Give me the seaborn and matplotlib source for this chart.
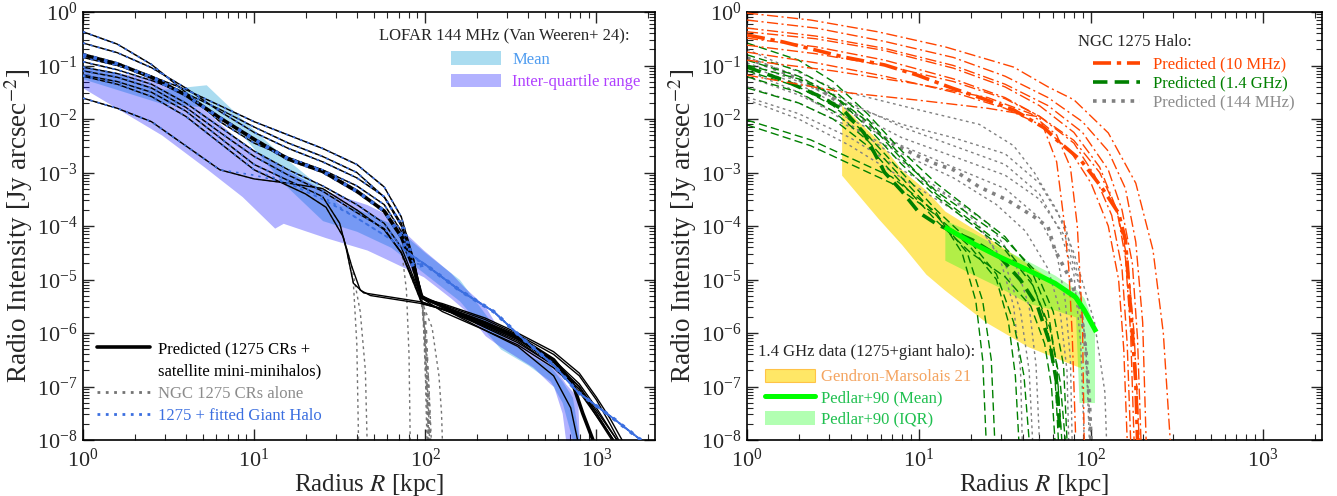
import numpy as np
import pandas as pd
import matplotlib
matplotlib.use("Agg")
import matplotlib.pyplot as plt
import seaborn as sns
from matplotlib.lines import Line2D
from matplotlib.patches import Patch
from matplotlib.ticker import NullFormatter, FixedLocator

sns.set_style("ticks")
plt.rcParams["font.family"] = ["Liberation Serif", "DejaVu Serif"]
plt.rcParams["mathtext.fontset"] = "stix"

# ===================== LEFT PANEL DATA (log10 values) =====================
# LOFAR 144 MHz profile bands
mean_R = [0, 0.2, 0.45, 0.72, 0.93, 1.17, 1.4, 1.5, 1.6, 1.8, 2.0, 2.2, 2.44, 2.6, 2.73, 2.8, 2.86, 2.9]
mean_hi = [-1.0, -1.15, -1.45, -1.36, -2.0, -2.7, -3.3, -3.6, -3.68, -3.95, -4.5, -5.0, -6.03, -6.4, -6.62, -6.9, -7.2, -8.0]
mean_lo = [-1.25, -1.45, -1.7, -1.78, -2.3, -3.2, -3.9, -4.0, -4.1, -4.4, -4.9, -5.4, -6.3, -6.6, -6.9, -7.3, -8.0, -8.0]

iqr_R = [0, 0.46, 0.71, 0.93, 1.12, 1.17, 1.42, 1.66, 1.76, 1.99, 2.15, 2.23, 2.35, 2.44, 2.63, 2.73, 2.75, 2.80, 2.82, 2.89, 2.9]
iqr_hi = [-1.03, -1.27, -1.83, -2.45, -2.82, -2.92, -3.35, -3.6, -3.76, -4.45, -4.88, -5.15, -5.5, -5.98, -6.35, -6.56, -6.62, -6.85, -6.95, -7.2, -8.0]
iqr_lo = [-1.42, -2.3, -2.9, -3.45, -4.04, -3.95, -4.22, -4.45, -4.6, -4.95, -5.35, -5.57, -6.05, -6.26, -6.64, -6.95, -7.0, -7.5, -8.0, -8.0, -8.0]

# NGC 1275 CR profiles (common inner radius grid)
cr_grid = [0, 0.2, 0.4, 0.6, 0.8, 1.0, 1.2, 1.4, 1.6, 1.76, 1.86, 1.93, 1.98]
cr_inner = [
    [-0.37, -0.60, -0.98, -1.50, -2.05, -2.45, -2.72, -2.95, -3.25, -3.60, -4.10, -4.70, -5.35],
    [-0.58, -0.76, -1.04, -1.42, -1.86, -2.25, -2.55, -2.80, -3.10, -3.45, -3.95, -4.60, -5.30],
    [-0.80, -0.97, -1.22, -1.55, -1.98, -2.38, -2.75, -2.98, -3.35, -3.72, -4.20, -4.77, -5.33],
    [-0.85, -1.00, -1.20, -1.45, -1.75, -2.05, -2.30, -2.55, -2.85, -3.27, -3.83, -4.60, -5.33],
    [-0.93, -1.08, -1.28, -1.52, -1.82, -2.15, -2.45, -2.70, -3.00, -3.46, -4.00, -4.70, -5.35],
    [-1.03, -1.15, -1.35, -1.70, -2.15, -2.60, -2.95, -3.25, -3.60, -3.95, -4.40],
    [-1.10, -1.22, -1.42, -1.78, -2.25, -2.70, -3.05, -3.35, -3.75, -4.05, -4.50, -5.00, -5.42],
    [-1.18, -1.30, -1.50, -1.85, -2.35, -2.85, -3.15, -3.45],
    [-1.20, -1.35, -1.58, -1.95, -2.45, -2.95, -3.25],
    [-1.61, -1.80, -2.05, -2.50, -2.95, -3.12, -3.20, -3.30, -3.70, -4.07, -4.50, -5.05, -5.45],
]
THICK = 2
# CR-alone cutoffs (grey dotted) beyond inner grid
drop_R = [
    [2.0, 2.01, 2.02, 2.025], [1.99, 2.0, 2.005, 2.01], [2.0, 2.01, 2.02, 2.025],
    [1.99, 2.0, 2.01, 2.015], [1.995, 2.005, 2.015, 2.02], [1.89, 1.905, 1.912],
    [2.04, 2.08, 2.095, 2.1], [1.5, 1.54, 1.58, 1.6, 1.61],
    [1.3, 1.42, 1.52, 1.57, 1.62, 1.65, 1.66], [2.0, 2.02, 2.03, 2.035],
]
drop_I = [
    [-6.0, -6.8, -7.5, -8.0], [-5.8, -6.6, -7.4, -8.0], [-5.9, -6.7, -7.5, -8.0],
    [-5.9, -6.7, -7.4, -8.0], [-5.9, -6.6, -7.4, -8.0], [-5.2, -6.4, -8.0],
    [-5.9, -6.8, -7.5, -8.0], [-3.95, -4.45, -5.07, -6.2, -8.0],
    [-3.4, -3.65, -4.2, -4.75, -5.6, -6.7, -8.0], [-6.0, -6.9, -7.6, -8.0],
]
# 1275 CRs + satellite mini-minihalos continuation (black)
sat_R = [
    [2.1, 2.35, 2.54, 2.75, 2.9, 3.0, 3.08, 3.15],
    [2.1, 2.35, 2.54, 2.75, 2.9, 3.0, 3.1],
    [2.15, 2.35, 2.54, 2.75, 2.86, 2.92, 2.98],
    [2.1, 2.35, 2.54, 2.75, 2.9, 3.0, 3.08, 3.13],
    [2.1, 2.35, 2.54, 2.75, 2.85, 2.89],
    [1.93, 1.98, 2.1, 2.35, 2.54, 2.75, 2.9, 3.0, 3.12],
    [2.1, 2.35, 2.54, 2.75, 2.9, 3.0, 3.1],
    [1.5, 1.54, 1.58, 1.64, 1.98, 2.15, 2.35, 2.54, 2.75, 2.9, 3.0, 3.09],
    [1.3, 1.42, 1.52, 1.57, 1.62, 1.68, 1.98, 2.15, 2.35, 2.54, 2.75, 2.9, 3.0, 3.1],
    [2.1, 2.35, 2.54, 2.75, 2.9, 3.0, 3.12],
]
sat_I = [
    [-5.45, -5.72, -6.0, -6.35, -6.75, -7.2, -7.6, -8.0],
    [-5.52, -5.85, -6.12, -6.55, -7.0, -7.5, -8.0],
    [-5.57, -5.81, -6.07, -6.5, -6.93, -7.5, -8.0],
    [-5.47, -5.75, -6.03, -6.4, -6.8, -7.25, -7.7, -8.0],
    [-5.6, -5.95, -6.25, -6.8, -7.4, -8.0],
    [-4.95, -5.35, -5.5, -5.82, -6.1, -6.5, -6.95, -7.4, -8.0],
    [-5.55, -5.88, -6.15, -6.6, -7.05, -7.55, -8.0],
    [-3.95, -4.45, -5.07, -5.25, -5.42, -5.62, -5.95, -6.22, -6.65, -7.1, -7.55, -8.0],
    [-3.4, -3.65, -4.2, -4.75, -5.2, -5.3, -5.45, -5.6, -5.9, -6.18, -6.6, -7.05, -7.5, -8.0],
    [-5.55, -5.86, -6.12, -6.55, -7.0, -7.45, -8.0],
]
# fitted giant halo profile (blue dotted takes over from it)
halo_R = [0.8, 1.0, 1.2, 1.4, 1.6, 1.8, 1.9, 2.0, 2.2, 2.4, 2.55, 2.75, 2.89, 3.1, 3.26]
halo_I = [-2.95, -3.05, -3.2, -3.5, -3.85, -4.25, -4.5, -4.72, -5.2, -5.6, -6.05, -6.6, -7.1, -7.6, -8.0]
blue_keep = [12, 12, 12, 12, 12, 11, 10, 8, 6, 5]   # inner points kept
blue_from = [7, 7, 7, 7, 7, 6, 6, 4, 2, 1]          # halo index joined

# ===================== RIGHT PANEL DATA (log10 values) =====================
o_R = [
    [0, 0.37, 0.76, 1.15, 1.55, 1.75, 1.9, 2.1, 2.26, 2.36, 2.42, 2.46],
    [0, 0.4, 0.8, 1.2, 1.5, 1.75, 1.95, 2.1, 2.2, 2.26, 2.3, 2.32],
    [0, 0.4, 0.8, 1.2, 1.5, 1.75, 1.95, 2.1, 2.18, 2.24, 2.27, 2.29],
    [0, 0.4, 0.8, 1.2, 1.5, 1.7, 1.9, 2.05, 2.15, 2.2, 2.23, 2.25],
    [0, 0.4, 0.8, 1.2, 1.5, 1.7, 1.9, 2.05, 2.15, 2.21, 2.25, 2.28],
    [0, 0.4, 0.8, 1.2, 1.5, 1.7, 1.9, 2.02, 2.12, 2.18, 2.21, 2.23],
    [0, 0.4, 0.8, 1.2, 1.5, 1.7, 1.88, 2.0, 2.1, 2.16, 2.19, 2.21],
    [0, 0.5, 1.0, 1.4, 1.65, 1.8, 1.88, 1.92, 1.95, 1.96],
    [0, 0.56, 1.0, 1.4, 1.7, 1.8, 1.84, 1.87, 1.89, 1.91],
]
o_I = [
    [-0.02, -0.15, -0.37, -0.65, -1.03, -1.4, -1.64, -2.26, -3.2, -4.45, -6.0, -8.0],
    [-0.15, -0.3, -0.55, -0.85, -1.2, -1.6, -2.05, -2.6, -3.3, -4.3, -5.8, -8.0],
    [-0.3, -0.45, -0.68, -1.0, -1.35, -1.75, -2.25, -2.95, -3.7, -4.7, -6.1, -8.0],
    [-0.37, -0.5, -0.72, -1.05, -1.4, -1.75, -2.25, -2.9, -3.7, -4.6, -6.0, -8.0],
    [-0.49, -0.65, -0.9, -1.25, -1.6, -1.95, -2.4, -3.0, -3.7, -4.6, -6.0, -8.0],
    [-0.62, -0.78, -1.0, -1.3, -1.62, -1.95, -2.45, -3.05, -3.8, -4.8, -6.2, -8.0],
    [-0.75, -0.95, -1.2, -1.5, -1.8, -2.1, -2.6, -3.2, -4.0, -5.0, -6.3, -8.0],
    [-0.9, -1.1, -1.35, -1.6, -1.9, -2.3, -2.9, -4.0, -5.8, -8.0],
    [-1.18, -1.5, -1.65, -1.8, -1.96, -2.8, -3.83, -4.77, -6.0, -7.9],
]
o_thick_R = [0, 0.21, 0.56, 0.8, 0.99, 1.19, 1.39, 1.55, 1.73, 1.8, 1.94, 2.06, 2.16, 2.2, 2.22, 2.24, 2.26, 2.27]
o_thick_I = [-0.43, -0.56, -0.84, -0.99, -1.18, -1.42, -1.64, -1.83, -2.17, -2.39, -2.77, -3.27, -3.76, -4.26, -5.14, -6.0, -6.93, -8.0]

g_R = [
    [0, 0.3, 0.5, 0.7, 0.9, 1.1, 1.3, 1.5, 1.65, 1.75, 1.8, 1.83],
    [0, 0.3, 0.5, 0.7, 0.9, 1.1, 1.3, 1.5, 1.65, 1.74, 1.79, 1.81],
    [0, 0.3, 0.5, 0.7, 0.9, 1.1, 1.3, 1.5, 1.68, 1.78, 1.84, 1.86],
    [0, 0.3, 0.5, 0.7, 0.9, 1.1, 1.3, 1.45, 1.55, 1.61, 1.64],
    [0, 0.3, 0.5, 0.7, 0.9, 1.1, 1.3, 1.45, 1.52, 1.56, 1.58],
    [0, 0.3, 0.5, 0.7, 0.9, 1.1, 1.3, 1.5, 1.65, 1.73, 1.77, 1.79],
    [0, 0.37, 0.84, 1.1, 1.25, 1.33, 1.37, 1.39],
    [0, 0.37, 0.84, 1.1, 1.28, 1.37, 1.42, 1.44],
    [0, 0.3, 0.5, 0.7, 0.9, 1.1, 1.3, 1.5, 1.66, 1.76, 1.82, 1.85],
]
g_I = [
    [-0.58, -0.9, -1.3, -1.9, -2.6, -3.2, -3.7, -4.2, -4.8, -5.6, -6.6, -8.0],
    [-0.80, -1.1, -1.45, -2.0, -2.7, -3.4, -3.9, -4.4, -5.0, -5.8, -6.8, -8.0],
    [-0.99, -1.25, -1.55, -2.05, -2.75, -3.35, -3.8, -4.25, -4.85, -5.6, -6.6, -8.0],
    [-1.1, -1.4, -1.75, -2.3, -3.0, -3.7, -4.3, -4.9, -5.8, -6.8, -8.0],
    [-1.21, -1.5, -1.85, -2.4, -3.1, -3.8, -4.4, -5.0, -5.8, -6.8, -8.0],
    [-1.42, -1.7, -2.0, -2.5, -3.2, -3.9, -4.5, -4.95, -5.5, -6.2, -7.0, -8.0],
    [-2.02, -2.39, -3.08, -3.75, -4.5, -5.4, -6.5, -8.0],
    [-2.11, -2.5, -3.2, -3.8, -4.5, -5.4, -6.5, -8.0],
    [-0.9, -1.2, -1.55, -2.15, -2.85, -3.45, -3.95, -4.45, -5.1, -5.9, -6.9, -8.0],
]
g_thick_R = [0, 0.21, 0.44, 0.56, 0.68, 0.8, 0.9, 1.0, 1.11, 1.31, 1.47, 1.59, 1.69, 1.76, 1.8, 1.82]
g_thick_I = [-1.03, -1.27, -1.6, -1.83, -2.26, -3.0, -3.35, -3.75, -3.98, -4.26, -4.58, -5.01, -5.51, -6.19, -6.93, -7.9]

k_R = [
    [0, 0.25, 0.52, 0.96, 1.35, 1.55, 1.67, 1.8, 1.9, 2.02, 2.08, 2.09],
    [0, 0.3, 0.6, 0.9, 1.2, 1.5, 1.7, 1.82, 1.9, 1.94, 1.96],
    [0, 0.3, 0.6, 0.9, 1.2, 1.5, 1.7, 1.85, 1.93, 1.97, 1.99],
    [0, 0.3, 0.6, 0.9, 1.2, 1.5, 1.7, 1.8, 1.85, 1.88, 1.89],
    [0, 0.3, 0.6, 0.9, 1.2, 1.45, 1.62, 1.75, 1.82, 1.86, 1.87],
    [0, 0.3, 0.6, 0.9, 1.2, 1.4, 1.55, 1.64, 1.68, 1.7],
    [0, 0.3, 0.6, 0.9, 1.2, 1.38, 1.5, 1.59, 1.64, 1.66],
    [0, 0.3, 0.6, 0.9, 1.2, 1.35, 1.47, 1.55, 1.59, 1.6],
    [0, 0.3, 0.6, 0.9, 1.2, 1.5, 1.7, 1.85, 1.93, 1.97, 2.0],
]
k_I = [
    [-0.7, -1.05, -1.45, -1.8, -2.1, -2.5, -3.0, -3.7, -4.5, -5.8, -7.1, -8.0],
    [-0.84, -1.2, -1.7, -2.15, -2.5, -2.85, -3.4, -4.1, -4.9, -6.2, -8.0],
    [-1.0, -1.35, -1.85, -2.35, -2.7, -3.05, -3.5, -4.2, -5.1, -6.3, -8.0],
    [-1.21, -1.55, -2.0, -2.5, -2.9, -3.3, -3.85, -4.5, -5.4, -6.5, -8.0],
    [-1.4, -1.7, -2.15, -2.65, -3.1, -3.6, -4.1, -4.8, -5.6, -6.7, -8.0],
    [-1.59, -1.9, -2.35, -2.95, -3.5, -3.95, -4.6, -5.5, -6.6, -8.0],
    [-1.64, -2.0, -2.5, -3.1, -3.7, -4.15, -4.7, -5.6, -6.7, -8.0],
    [-1.1, -1.5, -2.1, -2.8, -3.5, -4.0, -4.6, -5.5, -6.7, -8.0],
    [-0.95, -1.3, -1.75, -2.1, -2.35, -2.65, -3.2, -4.0, -5.0, -6.3, -8.0],
]
k_thick_R = [0, 0.22, 0.43, 0.62, 0.72, 0.84, 0.96, 1.08, 1.2, 1.35, 1.51, 1.67, 1.75, 1.79, 1.88, 1.94, 1.97, 1.99, 2.0]
k_thick_I = [-0.86, -1.14, -1.46, -1.89, -2.15, -2.45, -2.64, -2.82, -2.95, -3.27, -3.51, -3.83, -4.02, -4.45, -5.0, -5.57, -6.32, -7.25, -8.0]

# 1.4 GHz data
gm_R = [0.55, 0.76, 0.9, 1.04, 1.15, 1.39, 1.63, 1.86, 1.94]
gm_hi = [-1.74, -2.39, -2.95, -3.33, -3.72, -4.2, -4.7, -5.2, -5.44]
gm_lo = [-3.05, -3.85, -4.35, -4.9, -5.2, -5.8, -6.25, -6.55, -6.65]
ped_R = [1.15, 1.31, 1.47, 1.63, 1.79, 1.91, 1.93, 1.96, 2.0, 2.02]
ped_hi = [-3.89, -4.12, -4.4, -4.65, -4.92, -5.18, -5.24, -5.35, -5.7, -5.9]
ped_lo = [-4.64, -4.9, -5.15, -5.44, -5.57, -5.7, -7.3, -7.3, -7.3, -7.3]
ped_mean_R = [1.15, 1.31, 1.47, 1.63, 1.79, 1.91, 1.96, 2.03]
ped_mean_I = [-4.02, -4.32, -4.58, -4.82, -5.07, -5.33, -5.57, -5.98]

# axis ticks
x_major = [1, 10, 100, 1000]
y_major = [1e-8, 1e-7, 1e-6, 1e-5, 1e-4, 1e-3, 1e-2, 1e-1, 1]


# ===================== helpers =====================
def frame(curves):
    rows = []
    for k, (lr, li) in enumerate(curves):
        for a, b in zip(lr, li):
            rows.append((k, 10.0 ** a, 10.0 ** b))
    return pd.DataFrame(rows, columns=["unit", "R", "I"])


def draw(ax, curves, **kw):
    df = frame(curves)
    sns.lineplot(data=df, x="R", y="I", units="unit", estimator=None, sort=False,
                 legend=False, ax=ax, **kw)


def pw(v):
    return [10.0 ** x for x in v]


fig = plt.figure(figsize=(13.37, 4.96), dpi=100)
axL = fig.add_axes([83 / 1337, 56 / 496, 572 / 1337, 428 / 496])
axR = fig.add_axes([747 / 1337, 56 / 496, 575 / 1337, 428 / 496])

for ax in (axL, axR):
    ax.set_xscale("log")
    ax.set_yscale("log")
    ax.set_xlim(1, 2200)
    ax.set_ylim(1e-8, 1)

# ---------------- left panel ----------------
axL.fill_between(pw(mean_R), pw(mean_lo), pw(mean_hi), color="skyblue", alpha=0.7, lw=0, zorder=1)
axL.fill_between(pw(iqr_R), pw(iqr_lo), pw(iqr_hi), color="blue", alpha=0.3, lw=0, zorder=1.1)

n = len(cr_inner)
grey = [(cr_grid[:len(c)] + drop_R[i], c + drop_I[i]) for i, c in enumerate(cr_inner)]
black = [(cr_grid[:len(c)] + sat_R[i], c + sat_I[i]) for i, c in enumerate(cr_inner)]
blue = [(cr_grid[:blue_keep[i]] + halo_R[blue_from[i]:], c[:blue_keep[i]] + halo_I[blue_from[i]:])
        for i, c in enumerate(cr_inner)]
thin = [i for i in range(n) if i != THICK]

draw(axL, [grey[i] for i in thin], color="0.45", lw=1.0, ls=(0, (2, 2.5)), zorder=2)
draw(axL, [grey[THICK]], color="0.45", lw=2.6, ls=(0, (1, 1.5)), zorder=2)
draw(axL, [black[i] for i in thin], color="black", lw=1.0, zorder=3)
draw(axL, [black[THICK]], color="black", lw=2.6, zorder=3)
draw(axL, [blue[i] for i in thin], color="#3b6fe0", lw=1.2, ls=(0, (1.5, 3)), zorder=4)
draw(axL, [blue[THICK]], color="#3b6fe0", lw=2.6, ls=(0, (1, 2)), zorder=4)

# ---------------- right panel ----------------
axR.fill_between(pw(gm_R), pw(gm_lo), pw(gm_hi), color="gold", alpha=0.6, lw=0, zorder=1)
axR.fill_between(pw(ped_R), pw(ped_lo), pw(ped_hi), color="lime", alpha=0.3, lw=0, zorder=1.1)

draw(axR, list(zip(k_R, k_I)), color="0.5", lw=1.0, ls=(0, (2, 2.5)), zorder=2)
draw(axR, [(k_thick_R, k_thick_I)], color="0.5", lw=2.6, ls=(0, (1, 1.6)), zorder=2)
draw(axR, list(zip(g_R, g_I)), color="green", lw=1.0, ls=(0, (6, 3)), zorder=2.5)
draw(axR, [(g_thick_R, g_thick_I)], color="green", lw=2.6, ls=(0, (4, 2)), zorder=2.5)
draw(axR, list(zip(o_R, o_I)), color="orangered", lw=1.0, ls=(0, (8, 2.5, 1.5, 2.5)), zorder=3)
draw(axR, [(o_thick_R, o_thick_I)], color="orangered", lw=2.6, ls=(0, (5, 1.6, 1.2, 1.6)), zorder=3)
axR.plot(pw(ped_mean_R), pw(ped_mean_I), color="lime", lw=3.6, solid_capstyle="butt", zorder=3.5)

# ---------------- axes styling ----------------
TFS = 16
x_minor = [m * d for d in (1, 10, 100, 1000) for m in range(2, 10) if m * d <= 2200]
y_minor = [m * 10.0 ** e for e in range(-8, 0) for m in range(2, 10)]
for ax in (axL, axR):
    ax.xaxis.set_major_locator(FixedLocator(x_major))
    ax.xaxis.set_minor_locator(FixedLocator(x_minor))
    ax.xaxis.set_minor_formatter(NullFormatter())
    ax.yaxis.set_major_locator(FixedLocator(y_major))
    ax.yaxis.set_minor_locator(FixedLocator(y_minor))
    ax.yaxis.set_minor_formatter(NullFormatter())
    ax.tick_params(which="both", direction="in", top=True, right=True, labelsize=TFS)
    ax.tick_params(axis="x", which="major", pad=6)
    ax.tick_params(axis="y", which="major", pad=4)
    ax.tick_params(which="major", length=8, width=1.0)
    ax.tick_params(which="minor", length=4, width=0.8, labelbottom=False, labelleft=False)
    for s in ax.spines.values():
        s.set_linewidth(1.2)
        s.set_color("black")
    ax.set_xlabel("Radius $R$ [kpc]", fontsize=18)
    ax.xaxis.set_label_coords(0.5, -0.074)
    ax.set_ylabel("Radio Intensity [Jy arcsec$^{-2}$]", fontsize=19.5, labelpad=1)
    ax.set_facecolor("white")

LFS = 12
# left upper legend
axL.text(0.518, 0.943, "LOFAR 144 MHz (Van Weeren+ 24):", transform=axL.transAxes,
         fontsize=LFS, ha="left", va="center")
hL1 = [Patch(facecolor="skyblue", alpha=0.7, edgecolor="none"),
       Patch(facecolor="blue", alpha=0.3, edgecolor="none")]
leg1 = axL.legend(hL1, ["Mean", "Inter-quartile range"], loc="upper left",
                  bbox_to_anchor=(0.643, 0.908), frameon=False, fontsize=LFS,
                  handlelength=3.0, handleheight=0.9, handletextpad=0.7,
                  labelspacing=0.33, borderpad=0, borderaxespad=0,
                  labelcolor=["#4f9cf0", "#b040ff"])
axL.add_artist(leg1)

hL2 = [Line2D([], [], color="black", lw=2.6),
       Line2D([], [], color="none"),
       Line2D([], [], color="0.45", lw=2.0, ls=(0, (1, 2))),
       Line2D([], [], color="#3b6fe0", lw=2.0, ls=(0, (1, 2)))]
axL.legend(hL2, ["Predicted (1275 CRs +", "satellite mini-minihalos)",
                 "NGC 1275 CRs alone", "1275 + fitted Giant Halo"],
           loc="upper left", bbox_to_anchor=(0.0245, 0.231), frameon=False, fontsize=LFS,
           handlelength=3.2, handletextpad=0.45, labelspacing=0.38, borderpad=0,
           borderaxespad=0, labelcolor=["black", "black", "0.55", "#3b6fe0"])

# right upper legend
axR.text(0.576, 0.93, "NGC 1275 Halo:", transform=axR.transAxes,
         fontsize=LFS, ha="left", va="center")
hR1 = [Line2D([], [], color="orangered", lw=2.6, ls=(0, (5, 1.6, 1.2, 1.6))),
       Line2D([], [], color="green", lw=2.6, ls=(0, (4, 2))),
       Line2D([], [], color="0.5", lw=2.6, ls=(0, (1, 1.6)))]
leg3 = axR.legend(hR1, ["Predicted (10 MHz)", "Predicted (1.4 GHz)", "Predicted (144 MHz)"],
                  loc="upper left", bbox_to_anchor=(0.602, 0.896), frameon=False, fontsize=LFS,
                  handlelength=2.8, handletextpad=0.8, labelspacing=0.18, borderpad=0,
                  borderaxespad=0, labelcolor=["orangered", "green", "0.55"])
axR.add_artist(leg3)

axR.text(0.019, 0.206, "1.4 GHz data (1275+giant halo):", transform=axR.transAxes,
         fontsize=LFS, ha="left", va="center")
hR2 = [Patch(facecolor="gold", alpha=0.6, edgecolor="orange", lw=0.8),
       Line2D([], [], color="lime", lw=3.6),
       Patch(facecolor="lime", alpha=0.3, edgecolor="none")]
axR.legend(hR2, ["Gendron-Marsolais 21", "Pedlar+90 (Mean)", "Pedlar+90 (IQR)"],
           loc="upper left", bbox_to_anchor=(0.031, 0.167), frameon=False, fontsize=LFS,
           handlelength=3.0, handleheight=0.9, handletextpad=0.4, labelspacing=0.27,
           borderpad=0, borderaxespad=0, labelcolor=["sandybrown", "#20c050", "#20c050"])

fig.savefig("out.png", dpi=100)
